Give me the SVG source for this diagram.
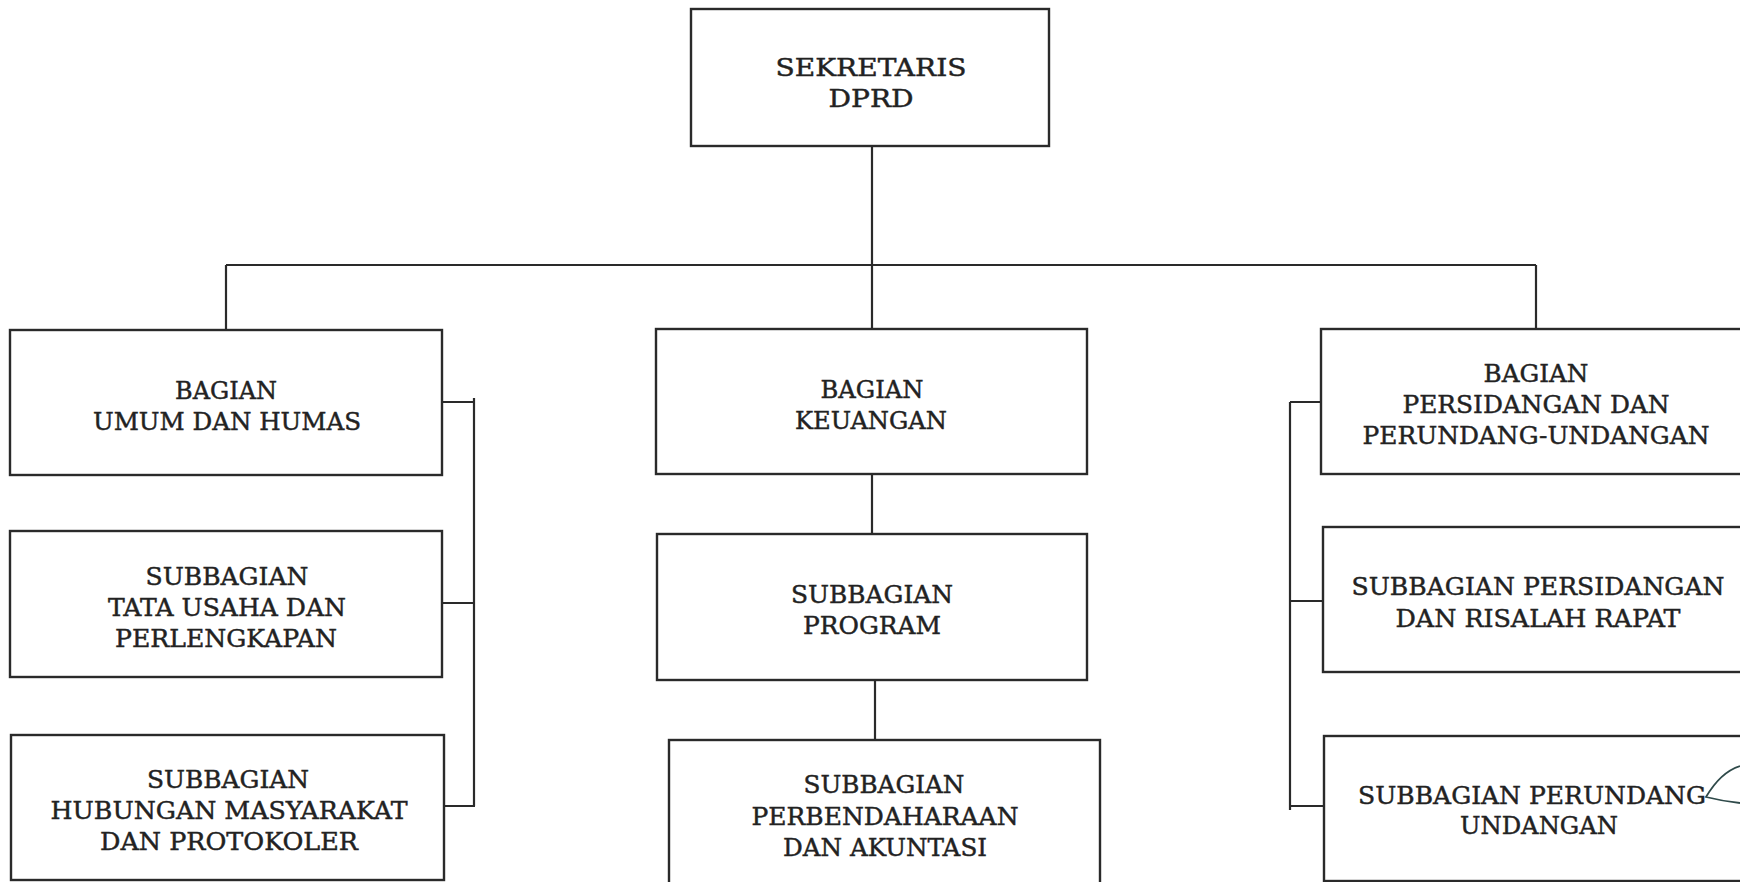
<svg xmlns="http://www.w3.org/2000/svg" width="1740" height="882" viewBox="0 0 1740 882">
<style>
.box{fill:#fff;stroke:#2a2a2a;stroke-width:2.4}
.ln{fill:none;stroke:#2a2a2a;stroke-width:2.2}
text{font-family:"DejaVu Serif","Liberation Serif",serif;font-size:25px;fill:#222;stroke:#222;stroke-width:0.45;text-anchor:middle}
</style>
<rect width="1740" height="882" fill="#fff"/>
<g id="connectors">
<path class="ln" d="M872,146 V265 M226,265 H1536 M226,265 V330 M872,265 V329 M1536,265 V329"/>
<path class="ln" d="M872,474 V534 M875,680 V740"/>
<path class="ln" d="M442,402 H474 M442,603 H474 M444,806 H475 M474,398 V806"/>
<path class="ln" d="M1321,402 H1290 M1323,601 H1290 M1324,806 H1290 M1290,402 V810"/>
</g>
<g id="sekretaris">
<rect class="box" x="691" y="9" width="358" height="137"/>
<text x="871" y="76" textLength="191" lengthAdjust="spacingAndGlyphs">SEKRETARIS</text>
<text x="871" y="107" textLength="85" lengthAdjust="spacingAndGlyphs">DPRD</text>
</g>
<g id="bagian-umum">
<rect class="box" x="10" y="330" width="432" height="145"/>
<text x="226" y="399" textLength="102" lengthAdjust="spacingAndGlyphs">BAGIAN</text>
<text x="227" y="430" textLength="268" lengthAdjust="spacingAndGlyphs">UMUM DAN HUMAS</text>
</g>
<g id="sub-tata-usaha">
<rect class="box" x="10" y="531" width="432" height="146"/>
<text x="227" y="585" textLength="163" lengthAdjust="spacingAndGlyphs">SUBBAGIAN</text>
<text x="227" y="616" textLength="238" lengthAdjust="spacingAndGlyphs">TATA USAHA DAN</text>
<text x="226" y="647" textLength="222" lengthAdjust="spacingAndGlyphs">PERLENGKAPAN</text>
</g>
<g id="sub-humas">
<rect class="box" x="11" y="735" width="433" height="145"/>
<text x="228" y="788" textLength="162" lengthAdjust="spacingAndGlyphs">SUBBAGIAN</text>
<text x="229" y="819" textLength="357" lengthAdjust="spacingAndGlyphs">HUBUNGAN MASYARAKAT</text>
<text x="229" y="850" textLength="258" lengthAdjust="spacingAndGlyphs">DAN PROTOKOLER</text>
</g>
<g id="bagian-keuangan">
<rect class="box" x="656" y="329" width="431" height="145"/>
<text x="872" y="398" textLength="103" lengthAdjust="spacingAndGlyphs">BAGIAN</text>
<text x="871" y="429" textLength="152" lengthAdjust="spacingAndGlyphs">KEUANGAN</text>
</g>
<g id="sub-program">
<rect class="box" x="657" y="534" width="430" height="146"/>
<text x="872" y="603" textLength="162" lengthAdjust="spacingAndGlyphs">SUBBAGIAN</text>
<text x="872" y="634" textLength="138" lengthAdjust="spacingAndGlyphs">PROGRAM</text>
</g>
<g id="sub-perbendaharaan">
<rect class="box" x="669" y="740" width="431" height="150"/>
<text x="884" y="793" textLength="161" lengthAdjust="spacingAndGlyphs">SUBBAGIAN</text>
<text x="885" y="825" textLength="267" lengthAdjust="spacingAndGlyphs">PERBENDAHARAAN</text>
<text x="885" y="856" textLength="204" lengthAdjust="spacingAndGlyphs">DAN AKUNTASI</text>
</g>
<g id="bagian-persidangan">
<rect class="box" x="1321" y="329" width="430" height="145"/>
<text x="1536" y="382" textLength="105" lengthAdjust="spacingAndGlyphs">BAGIAN</text>
<text x="1536" y="413" textLength="267" lengthAdjust="spacingAndGlyphs">PERSIDANGAN DAN</text>
<text x="1536" y="444" textLength="347" lengthAdjust="spacingAndGlyphs">PERUNDANG-UNDANGAN</text>
</g>
<g id="sub-persidangan">
<rect class="box" x="1323" y="527" width="430" height="145"/>
<text x="1538" y="595" textLength="373" lengthAdjust="spacingAndGlyphs">SUBBAGIAN PERSIDANGAN</text>
<text x="1538" y="627" textLength="285" lengthAdjust="spacingAndGlyphs">DAN RISALAH RAPAT</text>
</g>
<g id="sub-perundangan">
<rect class="box" x="1324" y="736" width="430" height="145"/>
<text x="1358" y="804" style="text-anchor:start" textLength="348" lengthAdjust="spacingAndGlyphs">SUBBAGIAN PERUNDANG</text>
<text x="1539" y="834" textLength="158" lengthAdjust="spacingAndGlyphs">UNDANGAN</text>
<path d="M1740,766 C1724,771 1713,785 1706,797 C1718,800 1730,802 1740,803" fill="none" stroke="#2f4a4a" stroke-width="1.8"/>
</g>
</svg>
